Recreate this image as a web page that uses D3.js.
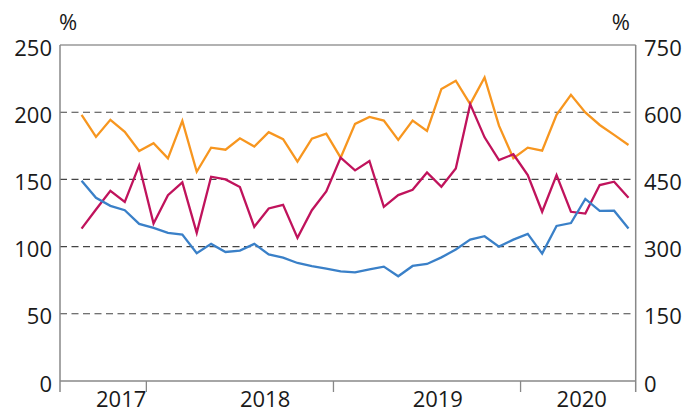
<!DOCTYPE html>
<html>
<head>
<meta charset="utf-8">
<script src="https://cdn.jsdelivr.net/npm/d3@7"></script>
<style>
  body { margin: 0; background: #fff; }
  svg text { font-family: "Open Sans", "DejaVu Sans", sans-serif; fill: #1a1a1a; }
</style>
</head>
<body>
<svg id="svg" width="687" height="409"></svg>
<script>
(function() {

    // four-week periods, 13 per year: 2017 P9 .. 2020 P8
    const periods = []
    ;[[2017, 9, 13], [2018, 1, 13], [2019, 1, 13], [2020, 1, 8]].forEach(([y, a, b]) => {
        for (let p = a; p <= b; p++) periods.push({ year: y, p: p })
    })

    const orange = [198.0, 181.6, 194.3, 185.4, 171.1, 176.9, 165.7, 193.5, 155.7, 173.6, 172.1, 180.6, 174.4,
        185.1, 179.9, 163.2, 180.3, 184.1, 166.2, 191.3, 196.5, 193.8, 179.4, 193.8, 186.1, 217.3,
        223.4, 206.0, 225.9, 190.0, 165.7, 173.6, 171.4, 198.0, 212.9, 199.8, 190.5, 183.1, 175.6]
    const crimson = [113.4, 127.6, 141.5, 133.3, 160.4, 117.2, 138.3, 147.8, 110.2, 152.0, 150.0, 144.3, 114.7,
        128.4, 131.1, 106.5, 127.1, 141.0, 166.2, 156.7, 163.7, 129.6, 138.3, 142.3, 155.2, 144.5,
        158.2, 206.0, 181.3, 164.4, 168.7, 153.2, 125.9, 153.2, 125.9, 124.6, 145.8, 148.3, 136.3]
    const blue = [149.0, 136.3, 130.3, 127.1, 116.9, 113.9, 110.2, 109.0, 95.0, 102.0, 96.0, 97.0, 102.0,
        94.2, 91.8, 87.8, 85.5, 83.7, 81.6, 80.8, 83.1, 85.1, 77.9, 85.6, 87.1, 92.0,
        97.8, 105.2, 107.7, 100.0, 105.2, 109.5, 94.8, 115.4, 117.5, 135.5, 126.6, 126.7, 113.4]

    const leftTicks = [0, 50, 100, 150, 200, 250]
    const rightTicks = [0, 150, 300, 450, 600, 750]
    const years = [2017, 2018, 2019, 2020]
    const yearLabelPos = [11.25, 21.25, 33.25, 43.25]   // in periods since start of 2017
    const yearBreaks = [13, 26, 39]

    const svg = d3.select('#svg')
    const left = 60, right = 635.7, top = 45, bottom = 381

    // x in periods counted from the start of 2017
    const tOf = d => (d.year - 2017) * 13 + d.p - 0.5
    const x = d3.scaleLinear().domain([7, 47]).range([left, right])
    const y = d3.scaleLinear().domain([0, 250]).range([bottom, top])
    const y2 = d3.scaleLinear().domain([0, 750]).range([bottom, top])

    // grid lines
    svg.selectAll('.grid')
        .data(leftTicks.filter(v => v > 0 && v < 250))
        .enter()
        .append('line')
            .attr('x1', left)
            .attr('x2', right)
            .attr('y1', d => y(d))
            .attr('y2', d => y(d))
            .style('stroke', '#444')
            .style('stroke-width', 1.1)
            .style('stroke-dasharray', '7,4.5')

    // frame
    svg.append('line')
        .attr('x1', left).attr('x2', right)
        .attr('y1', y(250)).attr('y2', y(250))
        .style('stroke', '#999').style('stroke-width', 1.5)
    svg.append('line')
        .attr('x1', left).attr('x2', right)
        .attr('y1', bottom).attr('y2', bottom)
        .style('stroke', '#888').style('stroke-width', 1.5)
    ;[left, right].forEach(xx => {
        svg.append('line')
            .attr('x1', xx).attr('x2', xx)
            .attr('y1', top).attr('y2', bottom + 11)
            .style('stroke', '#888').style('stroke-width', 1.5)
    })

    // year ticks
    svg.selectAll('.ytick')
        .data(yearBreaks)
        .enter()
        .append('line')
            .attr('x1', d => x(d)).attr('x2', d => x(d))
            .attr('y1', bottom).attr('y2', bottom + 11)
            .style('stroke', '#888').style('stroke-width', 1.3)

    // year labels
    svg.selectAll('.ylab')
        .data(years)
        .enter()
        .append('text')
            .attr('x', (d, i) => x(yearLabelPos[i]))
            .attr('y', 406.5)
            .attr('text-anchor', 'middle')
            .style('font-size', '22px')
            .text(d => d)

    // left axis labels
    svg.selectAll('.llab')
        .data(leftTicks)
        .enter()
        .append('text')
            .attr('x', 52)
            .attr('y', d => y(d) + 10.5)
            .attr('text-anchor', 'end')
            .style('font-size', '22px')
            .text(d => d)

    // right axis labels
    svg.selectAll('.rlab')
        .data(rightTicks)
        .enter()
        .append('text')
            .attr('x', 644)
            .attr('y', d => y2(d) + 10.5)
            .attr('text-anchor', 'start')
            .style('font-size', '22px')
            .text(d => d)

    svg.append('text')
        .attr('x', 59).attr('y', 29.5)
        .style('font-size', '22px')
        .text('%')
    svg.append('text')
        .attr('x', 630).attr('y', 29.5)
        .attr('text-anchor', 'end')
        .style('font-size', '22px')
        .text('%')

    // series
    const line = d3.line()
        .x((d, i) => x(tOf(periods[i])))
        .y(d => y(d))

    const series = [
        { values: orange, color: '#f7961f' },
        { values: crimson, color: '#c0135c' },
        { values: blue, color: '#3a80c8' }
    ]

    svg.selectAll('.series')
        .data(series)
        .enter()
        .append('path')
            .attr('d', d => line(d.values))
            .style('fill', 'none')
            .style('stroke', d => d.color)
            .style('stroke-width', 2.3)
            .style('stroke-linejoin', 'miter')

})();
</script>
</body>
</html>
